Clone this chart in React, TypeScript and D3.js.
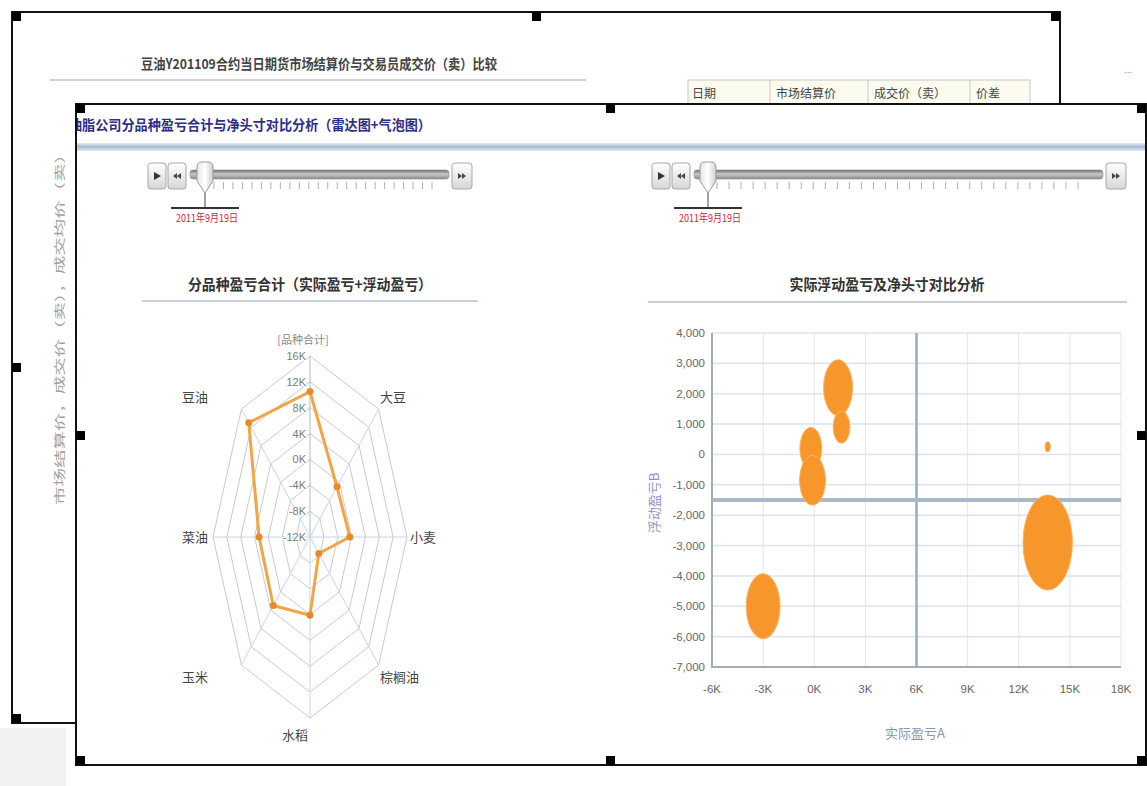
import React from "react";
import * as d3 from "d3";

// ---------- data ----------
const radarAxes = ["[品种合计]", "大豆", "小麦", "棕榈油", "水稻", "玉米", "菜油", "豆油"];
const radarValues = [10500, -1000, -500, -8400, 100, 3000, 2700, 13000];
const radarTicks = [16000, 12000, 8000, 4000, 0, -4000, -8000, -12000];

const bubbleX = [1400, 1600, -200, -100, 13700, 13700, -3000]; // 实际盈亏A
const bubbleY = [2200, 900, 200, -850, 250, -2900, -5000]; // 浮动盈亏B
const bubbleSize = [780, 260, 440, 620, 25, 2260, 1060]; // 净头寸
const xTicks = [-6000, -3000, 0, 3000, 6000, 9000, 12000, 15000, 18000];
const yTicks = [4000, 3000, 2000, 1000, 0, -1000, -2000, -3000, -4000, -5000, -6000, -7000];
const refX = 6000;
const refY = -1500;

const sliderDate = "2011年9月19日";
const tableHeaders = ["日期", "市场结算价", "成交价（卖）", "价差"];

const backTitle = "豆油Y201109合约当日期货市场结算价与交易员成交价（卖）比较";
const backYTitle = "市场结算价，成交价（卖），成交均价（卖）";
const frontTitle = "油脂公司分品种盈亏合计与净头寸对比分析（雷达图+气泡图）";
const radarTitle = "分品种盈亏合计（实际盈亏+浮动盈亏）";
const bubbleTitle = "实际浮动盈亏及净头寸对比分析";
const xAxisTitle = "实际盈亏A";
const yAxisTitle = "浮动盈亏B";

const CJK = "'Noto Sans CJK SC', 'Noto Sans', sans-serif";
const LAT = "'Liberation Sans', Arial, sans-serif";

const kFmt = (v: number) => `${v / 1000}K`;
const numFmt = (v: number) => d3.format(",")(v).replace("\u2212", "-");

function Handle({ x, y }: { x: number; y: number }) {
  return <rect x={x} y={y} width={9} height={9} fill="#000" />;
}

function Button({ x, y, w, kind }: { x: number; y: number; w: number; kind: string }) {
  const mx = x + w / 2;
  const my = y + 13;
  let glyph: React.ReactNode = null;
  if (kind === "play") {
    glyph = <path d={`M${mx - 3},${my - 4} L${mx + 4},${my} L${mx - 3},${my + 4} Z`} fill="#333" />;
  } else if (kind === "rew") {
    glyph = (
      <path
        d={`M${mx},${my - 3} L${mx - 4},${my} L${mx},${my + 3} Z M${mx + 4},${my - 3} L${mx},${my} L${mx + 4},${my + 3} Z`}
        fill="#444"
      />
    );
  } else {
    glyph = (
      <path
        d={`M${mx - 4},${my - 3} L${mx},${my} L${mx - 4},${my + 3} Z M${mx},${my - 3} L${mx + 4},${my} L${mx},${my + 3} Z`}
        fill="#444"
      />
    );
  }
  return (
    <g>
      <rect x={x} y={y} width={w} height={26} rx={3} fill="url(#btnGrad)" stroke="#a8a8a8" />
      {glyph}
    </g>
  );
}

function Slider({
  px,
  thumb,
  trackEnd,
  tickEnd,
  tickCount,
}: {
  px: number;
  thumb: number;
  trackEnd: number;
  tickEnd: number;
  tickCount: number;
}) {
  const y = 163;
  const trackStart = px + 42;
  const tickStart = thumb + 9;
  const ticks = d3.range(tickCount).map((i) => tickStart + (i * (tickEnd - tickStart)) / (tickCount - 1));
  return (
    <g>
      <Button x={px} y={y} w={18} kind="play" />
      <Button x={px + 20} y={y} w={18} kind="rew" />
      <rect x={trackStart} y={y + 7} width={trackEnd - trackStart} height={9} rx={3} fill="url(#trackGrad)" stroke="#8a8a8a" strokeWidth={0.6} />
      {ticks.map((t, i) => (
        <line key={i} x1={t} x2={t} y1={y + 19} y2={y + 26} stroke="#b0b0b0" strokeWidth={1} />
      ))}
      <Button x={trackEnd + 3} y={y} w={20} kind="ff" />
      <line x1={thumb} x2={thumb} y1={y + 28} y2={y + 45} stroke="#444" strokeWidth={1} />
      <path
        d={`M${thumb - 8},${y + 4} Q${thumb - 8},${y - 1} ${thumb - 3},${y - 1} L${thumb + 3},${y - 1} Q${thumb + 8},${y - 1} ${thumb + 8},${y + 4} L${thumb + 8},${y + 18} L${thumb},${y + 30} L${thumb - 8},${y + 18} Z`}
        fill="url(#thumbGrad)"
        stroke="#999"
      />
      <line x1={thumb - 34} x2={thumb + 34} y1={y + 45} y2={y + 45} stroke="#333" strokeWidth={2} />
      <text
        x={thumb + 2}
        y={y + 59}
        textAnchor="middle"
        fontFamily={CJK}
        fontSize={11}
        fill="#d0243a"
        textLength={62}
        lengthAdjust="spacingAndGlyphs"
      >
        {sliderDate}
      </text>
    </g>
  );
}

export default function App() {
  // ---------- radar ----------
  const cx = 310;
  const cy = 537;
  const Rx = 97;
  const Ry = 181;
  const rScale = d3.scaleLinear().domain([-12000, 16000]).range([0, 1]);
  const n = radarAxes.length;
  const ang = (i: number) => (i / n) * 2 * Math.PI;
  const pt = (i: number, v: number): [number, number] => [
    cx + Math.sin(ang(i)) * rScale(v) * Rx,
    cy - Math.cos(ang(i)) * rScale(v) * Ry,
  ];
  const lineGen = d3.line();
  const ringVals = radarTicks.filter((v) => v > -12000);
  const ringPath = (v: number) => lineGen(radarAxes.map((_, i) => pt(i, v))) + "Z";
  const dataPts = radarValues.map((v, i) => pt(i, v));
  const dataPath = lineGen(dataPts) + "Z";
  const outer = radarTicks[0];

  // ---------- bubble ----------
  const xs = d3.scaleLinear().domain([-6000, 18000]).range([712, 1121]);
  const ys = d3.scaleLinear().domain([-7000, 4000]).range([667, 333]);
  const rs = d3.scaleSqrt().domain([0, d3.max(bubbleSize) as number]).range([0, 47.5]);
  const plotL = xs(-6000);
  const plotR = xs(18000);
  const plotB = ys(-7000);
  const plotT = ys(4000);

  return (
    <svg width={1147} height={786} style={{ position: "absolute", left: 0, top: 0, background: "#fff" }}>
      <defs>
        <linearGradient id="btnGrad" x1="0" y1="0" x2="0" y2="1">
          <stop offset="0" stopColor="#ffffff" />
          <stop offset="1" stopColor="#d6d6d6" />
        </linearGradient>
        <linearGradient id="trackGrad" x1="0" y1="0" x2="0" y2="1">
          <stop offset="0" stopColor="#6e6e6e" />
          <stop offset="0.45" stopColor="#c8c8c8" />
          <stop offset="1" stopColor="#8c8c8c" />
        </linearGradient>
        <linearGradient id="thumbGrad" x1="0" y1="0" x2="1" y2="0">
          <stop offset="0" stopColor="#e6e6e6" />
          <stop offset="0.5" stopColor="#ffffff" />
          <stop offset="1" stopColor="#cfcfcf" />
        </linearGradient>
        <linearGradient id="bandGrad" x1="0" y1="0" x2="0" y2="1">
          <stop offset="0" stopColor="#dfe7f0" />
          <stop offset="0.5" stopColor="#a9bdd2" />
          <stop offset="1" stopColor="#e4ebf2" />
        </linearGradient>
        <clipPath id="frontClip">
          <rect x={77} y={105} width={1068} height={659} />
        </clipPath>
      </defs>

      <rect x={0} y={728} width={66} height={58} fill="#f1f1f1" />
      <text x={1124} y={73} fontFamily={LAT} fontSize={10} fill="#888">
        ...
      </text>

      {/* ---------- back panel ---------- */}
      <rect x={12} y={12} width={1048} height={711} fill="#fff" stroke="#111" strokeWidth={2} />
      <text
        x={319}
        y={69}
        textAnchor="middle"
        fontFamily={CJK}
        fontWeight="bold"
        fontSize={14}
        fill="#444"
        textLength={356}
        lengthAdjust="spacingAndGlyphs"
      >
        {backTitle}
      </text>
      <line x1={50} x2={586} y1={80} y2={80} stroke="#d2d2d2" strokeWidth={2} />
      <text
        transform="translate(64,325) rotate(-90)"
        textAnchor="middle"
        fontFamily={CJK}
        fontSize={11}
        fill="#a0a0a0"
        textLength={360}
        lengthAdjust="spacingAndGlyphs"
      >
        {backYTitle}
      </text>
      <rect x={688} y={80} width={342} height={30} fill="#fbfbef" stroke="#c8c8c8" />
      {[770, 868, 970].map((x) => (
        <line key={x} x1={x} x2={x} y1={80} y2={110} stroke="#c8c8c8" />
      ))}
      {tableHeaders.map((t, i) => (
        <text key={t} x={[692, 776, 874, 976][i]} y={98} fontFamily={CJK} fontSize={12} fill="#444">
          {t}
        </text>
      ))}
      <Handle x={12} y={12} />
      <Handle x={532} y={12} />
      <Handle x={1051} y={12} />
      <Handle x={12} y={363} />
      <Handle x={12} y={714} />

      {/* ---------- front panel ---------- */}
      <rect x={76} y={104} width={1070} height={661} fill="#fff" stroke="#111" strokeWidth={2} />
      <g clipPath="url(#frontClip)">
        <text
          x={69}
          y={130}
          fontFamily={CJK}
          fontWeight="bold"
          fontSize={14}
          fill="#2e2e82"
          textLength={362}
          lengthAdjust="spacingAndGlyphs"
        >
          {frontTitle}
        </text>
        <rect x={77} y={143} width={1068} height={8} fill="url(#bandGrad)" />
      </g>

      <Slider px={148} thumb={205} trackEnd={449} tickEnd={432} tickCount={24} />
      <Slider px={652} thumb={708} trackEnd={1103} tickEnd={1078} tickCount={31} />

      {/* ---------- radar ---------- */}
      <text
        x={310}
        y={290}
        textAnchor="middle"
        fontFamily={CJK}
        fontWeight="bold"
        fontSize={15}
        fill="#333"
        textLength={244}
        lengthAdjust="spacingAndGlyphs"
      >
        {radarTitle}
      </text>
      <line x1={142} x2={478} y1={301} y2={301} stroke="#c9d0da" strokeWidth={2} />

      {ringVals.map((v) => (
        <path key={v} d={ringPath(v)} fill="none" stroke="#cacaca" strokeWidth={1} />
      ))}
      {radarAxes.map((_, i) => {
        const [ex, ey] = pt(i, outer);
        return (
          <line key={i} x1={cx} y1={cy} x2={ex} y2={ey} stroke={i === 0 ? "#a9bdd3" : "#c4d5e8"} strokeWidth={1} />
        );
      })}
      {radarTicks.map((v) => (
        <text
          key={v}
          x={cx - 4}
          y={pt(0, v)[1] + 4}
          textAnchor="end"
          fontFamily={LAT}
          fontSize={11}
          fill="#7a7a7a"
          stroke="#fff"
          strokeWidth={2}
          paintOrder="stroke"
        >
          {kFmt(v)}
        </text>
      ))}
      <path d={dataPath} fill="none" stroke="#f2a546" strokeWidth={3} strokeLinejoin="round" />
      {dataPts.map(([x, y], i) => (
        <circle key={i} cx={x} cy={y} r={3.5} fill="#e8892a" />
      ))}
      {radarAxes.map((name, i) => {
        const s = Math.sin(ang(i));
        const c = Math.cos(ang(i));
        const y = cy - c * 198;
        let x: number;
        let anchor: "start" | "middle" | "end";
        if (Math.abs(s) < 0.01) {
          anchor = "middle";
          x = cx - (c > 0 ? 7 : 15);
        } else if (s > 0) {
          anchor = "start";
          x = cx + (s > 0.99 ? 100 : 70);
        } else {
          anchor = "end";
          x = cx - 102;
        }
        return (
          <text
            key={name}
            x={x}
            y={y + 5}
            textAnchor={anchor}
            fontFamily={CJK}
            fontSize={i === 0 ? 11 : 13}
            fill={i === 0 ? "#888" : "#444"}
          >
            {name}
          </text>
        );
      })}

      {/* ---------- bubble ---------- */}
      <text
        x={887}
        y={290}
        textAnchor="middle"
        fontFamily={CJK}
        fontWeight="bold"
        fontSize={15}
        fill="#333"
        textLength={195}
        lengthAdjust="spacingAndGlyphs"
      >
        {bubbleTitle}
      </text>
      <line x1={648} x2={1127} y1={302} y2={302} stroke="#c9d0da" strokeWidth={2} />

      {xTicks.map((t) => (
        <line key={"gx" + t} x1={xs(t)} x2={xs(t)} y1={plotT} y2={plotB} stroke="#e0e6ee" strokeWidth={1} />
      ))}
      {yTicks.map((t) => (
        <line key={"gy" + t} x1={plotL} x2={plotR} y1={ys(t)} y2={ys(t)} stroke="#dde3eb" strokeWidth={1.5} />
      ))}
      <line x1={xs(refX)} x2={xs(refX)} y1={plotT} y2={plotB} stroke="#9aabc0" strokeWidth={2.5} />
      <line x1={plotL} x2={plotR} y1={ys(refY)} y2={ys(refY)} stroke="#a9b9ca" strokeWidth={4} />
      <line x1={plotL} x2={plotL} y1={plotT} y2={plotB + 1} stroke="#a3adba" strokeWidth={2} />
      <line x1={plotL} x2={plotR} y1={plotB} y2={plotB} stroke="#a3adba" strokeWidth={2} />

      {bubbleX.map((bx, i) => {
        const ry = rs(bubbleSize[i]);
        return (
          <ellipse
            key={i}
            cx={xs(bx)}
            cy={ys(bubbleY[i])}
            rx={ry * 0.52}
            ry={ry}
            fill="#f7962b"
            stroke="#fbb463"
            strokeWidth={1}
          />
        );
      })}

      {yTicks.map((t) => (
        <text key={"ly" + t} x={705} y={ys(t) + 4} textAnchor="end" fontFamily={LAT} fontSize={11.5} fill="#666">
          {numFmt(t)}
        </text>
      ))}
      {xTicks.map((t) => (
        <text key={"lx" + t} x={xs(t)} y={693} textAnchor="middle" fontFamily={LAT} fontSize={11.5} fill="#666">
          {kFmt(t)}
        </text>
      ))}
      <text x={915} y={738} textAnchor="middle" fontFamily={CJK} fontSize={13} fill="#8a96b0">
        {xAxisTitle}
      </text>
      <text transform="translate(659,503) rotate(-90)" textAnchor="middle" fontFamily={CJK} fontSize={13} fill="#8d92c8">
        {yAxisTitle}
      </text>

      <Handle x={76} y={104} />
      <Handle x={606} y={104} />
      <Handle x={1137} y={104} />
      <Handle x={76} y={431} />
      <Handle x={1137} y={431} />
      <Handle x={76} y={756} />
      <Handle x={606} y={756} />
      <Handle x={1137} y={756} />
    </svg>
  );
}
